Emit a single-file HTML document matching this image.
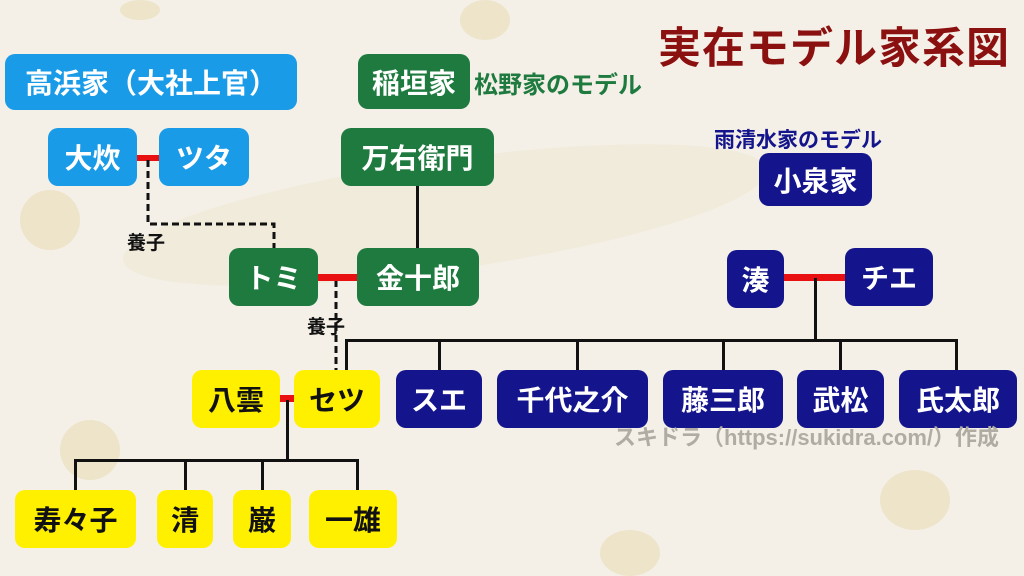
<!DOCTYPE html>
<html><head><meta charset="utf-8"><style>
body{margin:0;width:1024px;height:576px;overflow:hidden;background:#f4f0e7;font-family:"Liberation Sans","Noto Sans CJK JP",sans-serif;position:relative}
.b{position:absolute;border-radius:10px;color:#fff;font-weight:bold;font-size:28px;display:flex;align-items:center;justify-content:center;white-space:nowrap}
.bl{background:#1a9be8}.g{background:#1e7a3f}.n{background:#14148c}.y{background:#fff000;color:#111}
.l{position:absolute;background:#111}
.r{position:absolute;background:#e81010}
.t{position:absolute;font-weight:bold;white-space:nowrap}
.sp{position:absolute;border-radius:50%;background:#e9dcb8;opacity:.6}
</style></head><body>
<div class="sp" style="left:460px;top:0;width:50px;height:40px"></div>
<div class="sp" style="left:20px;top:190px;width:60px;height:60px"></div>
<div class="sp" style="left:60px;top:420px;width:60px;height:60px"></div>
<div class="sp" style="left:880px;top:470px;width:70px;height:60px"></div>
<div class="sp" style="left:600px;top:530px;width:60px;height:46px"></div>
<div class="sp" style="left:120px;top:0;width:40px;height:20px"></div>
<div style="position:absolute;left:120px;top:160px;width:650px;height:110px;background:#ece2c8;opacity:.35;border-radius:50%;transform:rotate(-8deg)"></div>

<div class="t" style="left:658px;top:14px;font-size:43px;letter-spacing:1px;color:#8b1010">実在モデル家系図</div>

<div class="b bl" style="left:5px;top:54px;width:292px;height:56px">高浜家（大社上官）</div>
<div class="b bl" style="left:48px;top:128px;width:89px;height:58px">大炊</div>
<div class="b bl" style="left:159px;top:128px;width:90px;height:58px">ツタ</div>
<div class="r" style="left:137px;top:155px;width:22px;height:6px"></div>
<svg style="position:absolute;left:0;top:0" width="1024" height="576">
<path d="M148 160 V224 H274 V248" fill="none" stroke="#111" stroke-width="3" stroke-dasharray="7,4"/>
<path d="M336 280 V376" fill="none" stroke="#111" stroke-width="3" stroke-dasharray="7,4"/>
</svg>
<div class="t" style="left:127px;top:228px;font-size:19px;color:#111">養子</div>

<div class="b g" style="left:358px;top:54px;width:112px;height:55px">稲垣家</div>
<div class="t" style="left:474px;top:65px;font-size:24px;color:#1e7a3f">松野家のモデル</div>
<div class="b g" style="left:341px;top:128px;width:153px;height:58px">万右衛門</div>
<div class="l" style="left:416px;top:186px;width:3px;height:62px"></div>
<div class="b g" style="left:229px;top:248px;width:89px;height:58px">トミ</div>
<div class="b g" style="left:357px;top:248px;width:122px;height:58px">金十郎</div>
<div class="r" style="left:318px;top:274px;width:39px;height:7px"></div>
<div class="t" style="left:307px;top:312px;font-size:19px;color:#111">養子</div>

<div class="t" style="left:714px;top:124px;font-size:21px;color:#14148c">雨清水家のモデル</div>
<div class="b n" style="left:759px;top:153px;width:113px;height:53px">小泉家</div>
<div class="b n" style="left:727px;top:250px;width:57px;height:58px">湊</div>
<div class="b n" style="left:845px;top:248px;width:88px;height:58px">チエ</div>
<div class="r" style="left:784px;top:274px;width:61px;height:7px"></div>
<div class="l" style="left:814px;top:278px;width:3px;height:62px"></div>
<div class="l" style="left:345px;top:339px;width:613px;height:3px"></div>
<div class="l" style="left:345px;top:339px;width:3px;height:32px"></div>
<div class="l" style="left:438px;top:339px;width:3px;height:31px"></div>
<div class="l" style="left:576px;top:339px;width:3px;height:31px"></div>
<div class="l" style="left:722px;top:339px;width:3px;height:31px"></div>
<div class="l" style="left:839px;top:339px;width:3px;height:31px"></div>
<div class="l" style="left:955px;top:339px;width:3px;height:31px"></div>
<div class="b n" style="left:396px;top:370px;width:86px;height:58px">スエ</div>
<div class="b n" style="left:497px;top:370px;width:151px;height:58px">千代之介</div>
<div class="b n" style="left:663px;top:370px;width:120px;height:58px">藤三郎</div>
<div class="b n" style="left:797px;top:370px;width:87px;height:58px">武松</div>
<div class="b n" style="left:899px;top:370px;width:118px;height:58px">氏太郎</div>
<div class="t" style="left:614px;top:420px;font-size:22px;color:#b0aca4;font-weight:bold">スキドラ（https://sukidra.com/）作成</div>

<div class="b y" style="left:192px;top:370px;width:88px;height:58px">八雲</div>
<div class="b y" style="left:294px;top:370px;width:86px;height:58px">セツ</div>
<div class="r" style="left:280px;top:395px;width:14px;height:7px"></div>
<div class="l" style="left:286px;top:400px;width:3px;height:60px"></div>
<div class="l" style="left:74px;top:459px;width:285px;height:3px"></div>
<div class="l" style="left:74px;top:459px;width:3px;height:31px"></div>
<div class="l" style="left:184px;top:459px;width:3px;height:31px"></div>
<div class="l" style="left:261px;top:459px;width:3px;height:31px"></div>
<div class="l" style="left:356px;top:459px;width:3px;height:31px"></div>
<div class="b y" style="left:15px;top:490px;width:121px;height:58px">寿々子</div>
<div class="b y" style="left:157px;top:490px;width:56px;height:58px">清</div>
<div class="b y" style="left:233px;top:490px;width:58px;height:58px">巌</div>
<div class="b y" style="left:309px;top:490px;width:88px;height:58px">一雄</div>
</body></html>
